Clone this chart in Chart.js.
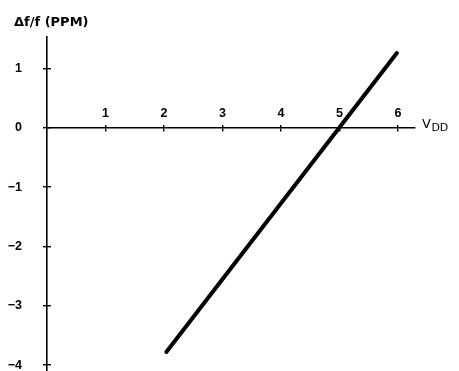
<!DOCTYPE html>
<html>
<head>
<meta charset="utf-8">
<script src="https://cdn.jsdelivr.net/npm/chart.js@4/dist/chart.umd.min.js"></script>
<style>
  html, body { margin: 0; padding: 0; background: #fff; }
  canvas { display: block; }
</style>
</head>
<body>
<canvas id="c" width="459" height="371"></canvas>
<script>
// ---- data ----
const xTicks = [1, 2, 3, 4, 5, 6];
const yTicks = [-4, -3, -2, -1, 0, 1];
const lineX = [2.04, 5.98];
const lineY = [-3.78, 1.26];
const yTitle = 'Δf/f (PPM)';
const xTitleMain = 'V';
const xTitleSub = 'DD';

const xRange = [0, 6.29];
const yRange = [-4.1, 1.53];

const INK = '#000';
const tickFont = { family: 'Liberation Sans, Arial, sans-serif', weight: 'bold', size: 12.5 };

function fmtY(v) { return v < 0 ? '\u2212' + Math.abs(v) : String(v); }

const points = lineX.map((x, i) => ({ x: x, y: lineY[i] }));

const zeroHeight = s => { s.height = 0; s.paddingLeft = 0; s.paddingRight = 0; s.paddingTop = 0; s.paddingBottom = 0; };
const zeroWidth = s => { s.width = 0; s.paddingLeft = 0; s.paddingRight = 0; s.paddingTop = 0; s.paddingBottom = 0; };

const textPlugin = {
  id: 'axisText',
  afterDraw(chart) {
    const ctx = chart.ctx;
    const y0 = chart.scales.y.getPixelForValue(0);
    const x = chart.chartArea.right + 7;
    ctx.save();
    ctx.fillStyle = INK;
    ctx.textAlign = 'left';
    ctx.textBaseline = 'alphabetic';
    // y-axis title, top-left
    ctx.font = 'bold 13px "DejaVu Sans", sans-serif';
    ctx.fillText(yTitle, 14, 25.5);
    // x-axis title V_DD at the right end of the axis
    ctx.font = '13px "DejaVu Sans", sans-serif';
    ctx.fillText(xTitleMain, x, y0);
    const w = ctx.measureText(xTitleMain).width;
    ctx.font = '11px "DejaVu Sans", sans-serif';
    ctx.fillText(xTitleSub, x + w + 0.5, y0 + 3.5);
    ctx.restore();
  }
};

new Chart(document.getElementById('c'), {
  type: 'scatter',
  data: {
    datasets: [{
      data: points,
      showLine: true,
      borderColor: INK,
      backgroundColor: INK,
      borderWidth: 4,
      borderCapStyle: 'round',
      pointRadius: 0,
      pointHoverRadius: 0,
      clip: false
    }]
  },
  options: {
    responsive: false,
    animation: false,
    devicePixelRatio: 1,
    events: [],
    layout: { padding: { left: 0, right: 44, top: 37, bottom: 0 } },
    plugins: {
      legend: { display: false },
      tooltip: { enabled: false },
      title: { display: false }
    },
    scales: {
      y: {
        type: 'linear',
        position: 'left',
        min: yRange[0], max: yRange[1],
        afterBuildTicks: s => { s.ticks = yTicks.map(v => ({ value: v })); },
        afterFit: s => { s.width = 47; s.paddingTop = 0; s.paddingBottom = 0; },
        border: { display: true, color: INK, width: 1.6 },
        grid: { display: true, drawOnChartArea: false, drawTicks: true, tickLength: 4, color: INK, lineWidth: 1.4 },
        ticks: { color: INK, font: tickFont, padding: 21, callback: v => fmtY(v) }
      },
      y2: {
        type: 'linear',
        axis: 'y',
        position: { x: 0 },
        min: yRange[0], max: yRange[1],
        afterBuildTicks: s => { s.ticks = yTicks.map(v => ({ value: v })); },
        afterFit: zeroWidth,
        border: { display: false },
        grid: { display: true, drawOnChartArea: false, drawTicks: true, tickLength: -4, color: INK, lineWidth: 1.4 },
        ticks: { display: false }
      },
      x: {
        type: 'linear',
        position: { y: 0 },
        min: xRange[0], max: xRange[1],
        afterBuildTicks: s => { s.ticks = xTicks.map(v => ({ value: v })); },
        afterFit: zeroHeight,
        border: { display: true, color: INK, width: 1.6 },
        grid: { display: true, drawOnChartArea: false, drawTicks: true, tickLength: 3, color: INK, lineWidth: 1.4 },
        ticks: { color: INK, font: tickFont, padding: -24.5, maxRotation: 0, autoSkip: false, callback: v => String(v) }
      },
      x2: {
        type: 'linear',
        axis: 'x',
        position: { y: 0 },
        min: xRange[0], max: xRange[1],
        afterBuildTicks: s => { s.ticks = xTicks.map(v => ({ value: v })); },
        afterFit: zeroHeight,
        border: { display: false },
        grid: { display: true, drawOnChartArea: false, drawTicks: true, tickLength: -3, color: INK, lineWidth: 1.4 },
        ticks: { display: false }
      }
    }
  },
  plugins: [textPlugin]
});
</script>
</body>
</html>
